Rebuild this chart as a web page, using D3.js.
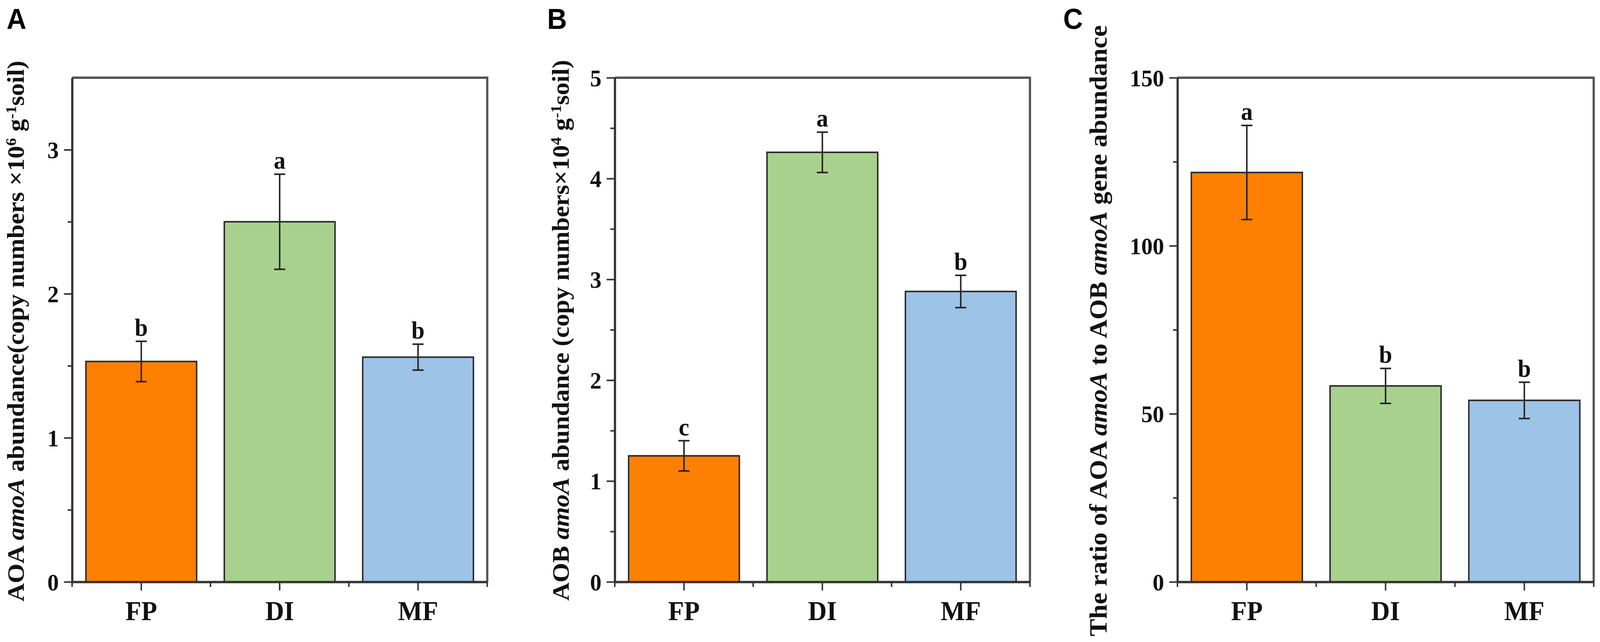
<!DOCTYPE html>
<html>
<head>
<meta charset="utf-8">
<script src="https://cdn.jsdelivr.net/npm/d3@7"></script>
<style>
  html, body { margin: 0; padding: 0; width: 100%; height: 100%; overflow: hidden; background: #fff; }
  svg { display: block; width: 100vw; height: 100vh; }
</style>
</head>
<body>
<svg id="chart"></svg>
<script>
// treatments and bar colours
const categories = ["FP", "DI", "MF"];
const barColors = ["#FF8000", "#A9D18E", "#9DC3E6"];

// panel A: AOA amoA abundance
const aoaValues = [1.53, 2.50, 1.56];
const aoaErrors = [0.14, 0.33, 0.09];
const aoaLetters = ["b", "a", "b"];
const aoaTicks = [0, 1, 2, 3];
const aoaMinorTicks = [0.5, 1.5, 2.5];
const aoaMax = 3.5;

// panel B: AOB amoA abundance
const aobValues = [1.25, 4.26, 2.88];
const aobErrors = [0.15, 0.20, 0.16];
const aobLetters = ["c", "a", "b"];
const aobTicks = [0, 1, 2, 3, 4, 5];
const aobMinorTicks = [0.5, 1.5, 2.5, 3.5, 4.5];
const aobMax = 5;

// panel C: AOA / AOB ratio
const ratioValues = [121.8, 58.3, 54.0];
const ratioErrors = [14.0, 5.2, 5.4];
const ratioLetters = ["a", "b", "b"];
const ratioTicks = [0, 50, 100, 150];
const ratioMinorTicks = [25, 75, 125];
const ratioMax = 150;

const width = 4328;
const height = 1644;
const plotTop = 199, plotBottom = 1490;

const serif = "'Liberation Serif', 'Times New Roman', serif";
const sans = "'Liberation Sans', Arial, sans-serif";

// scale the whole drawing to whatever the viewport is
const svg = d3.select("#chart")
    .attr("viewBox", [0, 0, width, height])
    .attr("preserveAspectRatio", "none");

// one entry per panel, built from the arrays above
const panels = [
    { tag: "A", tagX: 18, left: 195, right: 1318, values: aoaValues, errors: aoaErrors, letters: aoaLetters,
      ticks: aoaTicks, minor: aoaMinorTicks, max: aoaMax, labelX: 42, labelY: 848, labelSize: 65, label: "aoa" },
    { tag: "B", tagX: 1480, left: 1663, right: 2786, values: aobValues, errors: aobErrors, letters: aobLetters,
      ticks: aobTicks, minor: aobMinorTicks, max: aobMax, labelX: 1516, labelY: 846, labelSize: 65, label: "aob" },
    { tag: "C", tagX: 2876, left: 3185, right: 4311, values: ratioValues, errors: ratioErrors, letters: ratioLetters,
      ticks: ratioTicks, minor: ratioMinorTicks, max: ratioMax, labelX: 2970, labelY: 847, labelSize: 67, label: "ratio" }
];

// y axis titles with italics / superscripts
function writeLabel(text, kind) {
    const part = (t, opts = {}) => {
        const s = text.append("tspan").text(t);
        if (opts.italic) s.attr("font-style", "italic");
        if (opts.sup) s.attr("baseline-shift", "super").attr("font-size", "62%");
        return s;
    };
    if (kind === "aoa") {
        part("AOA  ");
        part("amoA", { italic: true });
        part("  abundance(copy numbers \u00d710");
        part("6", { sup: true });
        part(" g");
        part("-1", { sup: true });
        part("soil)");
    } else if (kind === "aob") {
        part("AOB ");
        part("amoA", { italic: true });
        part(" abundance (copy numbers\u00d710");
        part("4", { sup: true });
        part(" g");
        part("-1", { sup: true });
        part("soil)");
    } else {
        part("The ratio of AOA ");
        part("amoA", { italic: true });
        part(" to AOB ");
        part("amoA", { italic: true });
        part(" gene abundance");
    }
}

panels.forEach(p => {
    const rows = categories.map((c, i) => ({
        cat: c, value: p.values[i], err: p.errors[i], letter: p.letters[i], color: barColors[i]
    }));

    const xScale = d3.scaleBand()
        .domain(categories)
        .range([p.left, p.right])
        .paddingInner(0.2)
        .paddingOuter(0.1);

    const yScale = d3.scaleLinear()
        .domain([0, p.max])
        .range([plotBottom, plotTop]);

    const g = svg.append("g");

    // bars
    g.append("g")
        .selectAll("rect")
        .data(rows)
        .join("rect")
        .attr("x", d => xScale(d.cat))
        .attr("y", d => yScale(d.value))
        .attr("width", xScale.bandwidth())
        .attr("height", d => yScale(0) - yScale(d.value))
        .attr("fill", d => d.color)
        .attr("stroke", "#2b2b2b")
        .attr("stroke-width", 4);

    // error bars
    const eb = g.append("g")
        .attr("stroke", "#222")
        .attr("stroke-width", 4)
        .selectAll("g")
        .data(rows)
        .join("g")
        .attr("transform", d => `translate(${xScale(d.cat) + xScale.bandwidth() / 2},0)`);
    eb.append("line")
        .attr("y1", d => yScale(d.value + d.err))
        .attr("y2", d => yScale(d.value - d.err));
    eb.append("line")
        .attr("x1", -15).attr("x2", 15)
        .attr("y1", d => yScale(d.value + d.err))
        .attr("y2", d => yScale(d.value + d.err));
    eb.append("line")
        .attr("x1", -15).attr("x2", 15)
        .attr("y1", d => yScale(d.value - d.err))
        .attr("y2", d => yScale(d.value - d.err));

    // significance letters
    g.append("g")
        .selectAll("text")
        .data(rows)
        .join("text")
        .attr("x", d => xScale(d.cat) + xScale.bandwidth() / 2)
        .attr("y", d => yScale(d.value + d.err) - 14)
        .attr("text-anchor", "middle")
        .attr("font-family", serif)
        .attr("font-weight", "bold")
        .attr("font-size", 64)
        .attr("fill", "#111")
        .text(d => d.letter);

    // frame top / right
    g.append("path")
        .attr("d", `M${p.left},${plotTop}H${p.right}V${plotBottom}`)
        .attr("fill", "none")
        .attr("stroke", "#555")
        .attr("stroke-width", 6);

    // y axis: major + minor ticks
    const yAxis = g.append("g")
        .attr("transform", `translate(${p.left},0)`)
        .call(d3.axisLeft(yScale).tickValues(p.ticks).tickFormat(d3.format("d"))
            .tickSize(22).tickPadding(14).tickSizeOuter(0));
    yAxis.select(".domain").attr("stroke", "#333").attr("stroke-width", 6);
    yAxis.selectAll(".tick line").attr("stroke", "#333").attr("stroke-width", 4);
    yAxis.selectAll(".tick text")
        .attr("font-family", serif)
        .attr("font-weight", "bold")
        .attr("font-size", 62)
        .attr("fill", "#111")
        .attr("dy", "0.34em");

    g.append("g")
        .attr("transform", `translate(${p.left},0)`)
        .call(d3.axisLeft(yScale).tickValues(p.minor).tickSize(12).tickFormat("").tickSizeOuter(0))
        .call(a => a.select(".domain").remove())
        .selectAll(".tick line").attr("stroke", "#333").attr("stroke-width", 4);

    // x axis: ticks at bar centres + short ticks at band edges
    const xAxis = g.append("g")
        .attr("transform", `translate(0,${plotBottom})`)
        .call(d3.axisBottom(xScale).tickSize(22).tickSizeOuter(0));
    xAxis.select(".domain").attr("stroke", "#333").attr("stroke-width", 6);
    xAxis.selectAll(".tick line").attr("stroke", "#333").attr("stroke-width", 4);
    xAxis.selectAll(".tick text")
        .attr("font-family", serif)
        .attr("font-weight", "bold")
        .attr("font-size", 70)
        .attr("fill", "#111")
        .attr("dy", null)
        .attr("y", 98);

    const step = (p.right - p.left) / categories.length;
    g.append("g")
        .selectAll("line")
        .data(d3.range(categories.length + 1))
        .join("line")
        .attr("x1", i => p.left + i * step)
        .attr("x2", i => p.left + i * step)
        .attr("y1", plotBottom)
        .attr("y2", plotBottom + 13)
        .attr("stroke", "#333")
        .attr("stroke-width", 4);

    // y title
    const title = g.append("text")
        .attr("transform", `translate(${p.labelX},${p.labelY}) rotate(-90)`)
        .attr("text-anchor", "middle")
        .attr("dy", "0.35em")
        .attr("font-family", serif)
        .attr("font-weight", "bold")
        .attr("font-size", p.labelSize)
        .attr("fill", "#111");
    writeLabel(title, p.label);

    // panel tag
    svg.append("text")
        .attr("x", p.tagX)
        .attr("y", 74)
        .attr("font-family", sans)
        .attr("font-weight", "bold")
        .attr("font-size", 74)
        .attr("fill", "#000")
        .text(p.tag);
});
</script>
</body>
</html>
